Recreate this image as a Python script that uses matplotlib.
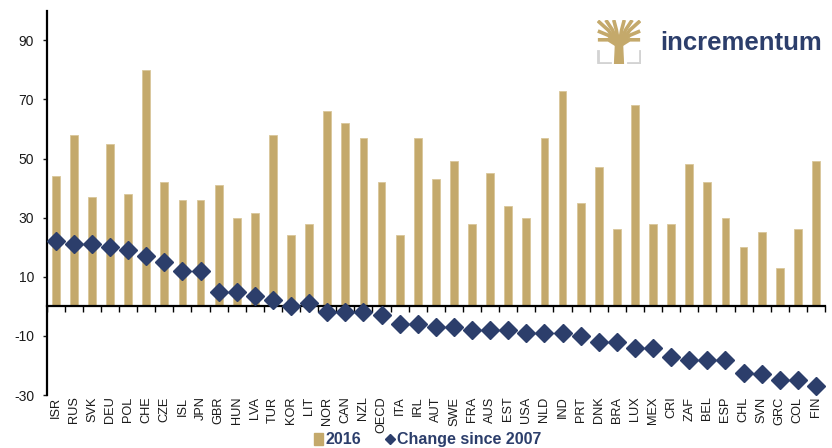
import matplotlib
matplotlib.use("Agg")
import matplotlib.pyplot as plt
import matplotlib.transforms as mtransforms
from matplotlib.patches import Patch, Polygon
from matplotlib.lines import Line2D
import numpy as np

plt.rcParams['font.family'] = ['Liberation Sans', 'DejaVu Sans']
plt.rcParams['axes.unicode_minus'] = False

countries = ["ISR", "RUS", "SVK", "DEU", "POL", "CHE", "CZE", "ISL", "JPN", "GBR",
             "HUN", "LVA", "TUR", "KOR", "LIT", "NOR", "CAN", "NZL", "OECD", "ITA",
             "IRL", "AUT", "SWE", "FRA", "AUS", "EST", "USA", "NLD", "IND", "PRT",
             "DNK", "BRA", "LUX", "MEX", "CRI", "ZAF", "BEL", "ESP", "CHL", "SVN",
             "GRC", "COL", "FIN"]
val_2016 = [44, 58, 37, 55, 38, 80, 42, 36, 36, 41,
            30, 31.5, 58, 24, 28, 66, 62, 57, 42, 24,
            57, 43, 49, 28, 45, 34, 30, 57, 73, 35,
            47, 26, 68, 28, 28, 48, 42, 30, 20, 25,
            13, 26, 49]
change_2007 = [22, 21, 21, 20, 19, 17, 15, 12, 12, 5,
               5, 3.5, 2, 0, 1, -2, -2, -2, -3, -6,
               -6, -7, -7, -8, -8, -8, -9, -9, -9, -10,
               -12, -12, -14, -14, -17, -18, -18, -18, -22.5, -23,
               -25, -25, -27]
yticks = [-30, -10, 10, 30, 50, 70, 90]

gold = "#C4A96B"
navy = "#2C3E6B"

fig = plt.figure(figsize=(8.32, 4.48), dpi=100)
ax = fig.add_axes([0.0561, 0.1183, 0.9355, 0.8577])

x = np.arange(len(countries))
ax.bar(x, val_2016, width=0.43, color=gold, edgecolor="#D9C79A", linewidth=0.6, zorder=2)
ax.plot(x, change_2007, ls="none", marker="D", ms=9.5, color=navy, zorder=4, clip_on=False)

ax.set_xlim(-0.5, len(countries) - 0.5)
ax.set_ylim(-30, 100)
ax.set_yticks(yticks)
ax.tick_params(axis='y', length=3.2, width=1, pad=5.8, labelsize=10, colors="#1a1a1a")

for s in ["top", "right"]:
    ax.spines[s].set_visible(False)
ax.spines['left'].set_linewidth(1.6)
ax.spines['bottom'].set_position(('data', 0))
ax.spines['bottom'].set_linewidth(1.6)
ax.spines['bottom'].set_zorder(3)
ax.set_xticks(np.arange(-0.5, len(countries), 1))
ax.set_xticklabels([])
ax.tick_params(axis='x', length=4, width=1)

trans = mtransforms.blended_transform_factory(ax.transData, ax.transAxes)
for i, c in enumerate(countries):
    ax.text(i, -0.004, c, transform=trans, rotation=90, ha='center', va='top',
            fontsize=9.2, color="#1a1a1a")

handles = [Patch(color=gold),
           Line2D([], [], ls="none", marker="D", ms=5.5, color=navy)]
fig.legend(handles, ["2016", "Change since 2007"], ncol=2, loc='center',
           bbox_to_anchor=(0.514, 0.018), frameon=False, handlelength=0.6,
           handleheight=0.75, handletextpad=0.15, columnspacing=1.5,
           prop={'weight': 'bold', 'size': 11.5}, labelcolor=navy)

# logo
fig.text(0.793, 0.903, "incrementum", fontsize=18.5, weight='bold', color=navy,
         ha='left', va='center')
lax = fig.add_axes([597 / 832, 1 - 64 / 448, 44 / 832, 44 / 448])
lax.set_xlim(0, 1)
lax.set_ylim(0, 1)
lax.axis('off')
grey = "#D3D3D3"
lax.plot([0.02, 0.02, 0.3], [0.3, 0.03, 0.03], color=grey, lw=2)
lax.plot([0.98, 0.98, 0.7], [0.3, 0.03, 0.03], color=grey, lw=2)
lax.add_patch(Polygon([[0.4, 0.0], [0.6, 0.0], [0.58, 0.45], [0.42, 0.45]], color=gold))
for xe, ye in [(0.02, 0.98), (0.2, 1.0), (0.38, 1.0), (0.62, 1.0), (0.8, 1.0),
               (0.98, 0.98), (0.02, 0.75), (0.98, 0.75), (0.02, 0.55), (0.98, 0.55)]:
    lax.plot([0.5, (xe + 0.5) / 2, xe], [0.4, (ye + 0.45) / 2 + 0.05, ye],
             color=gold, lw=2.6, solid_capstyle='butt')

fig.savefig("out.png", dpi=100)
